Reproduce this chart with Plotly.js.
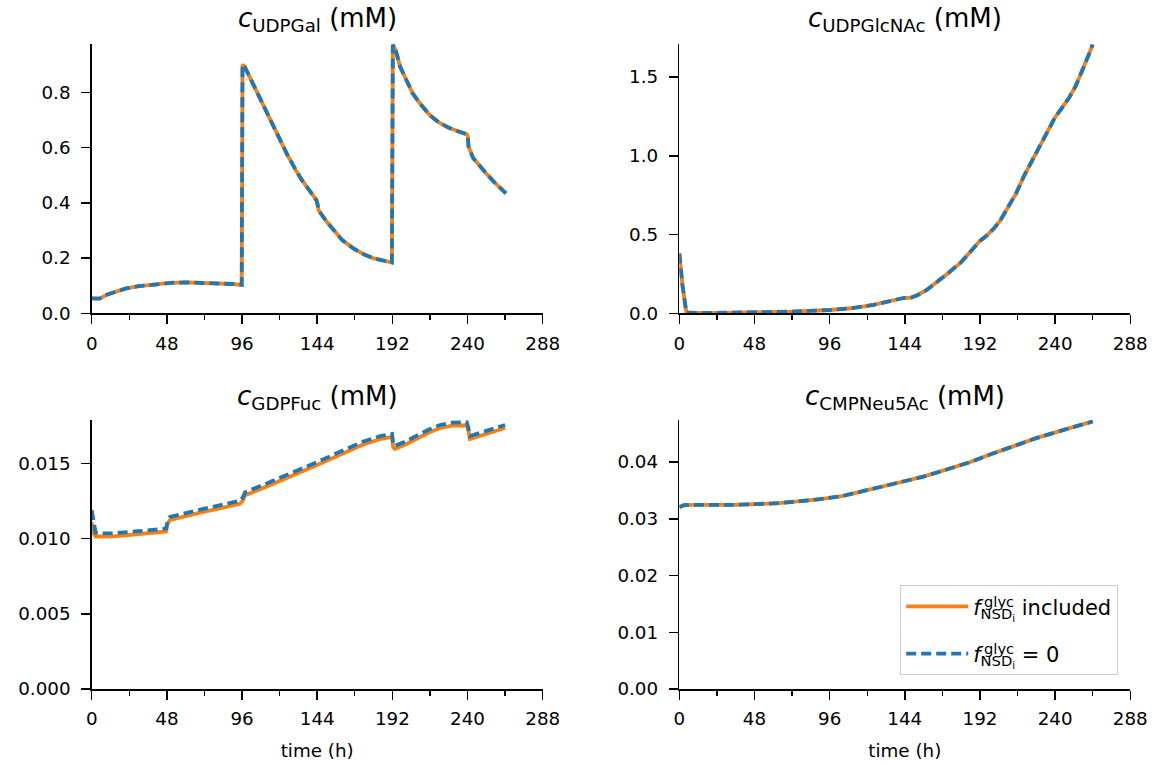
<!DOCTYPE html>
<html>
<head>
<meta charset="utf-8">
<script src="https://cdn.plot.ly/plotly-3.0.1.min.js"></script>
<style>html,body{margin:0;padding:0;background:#fff;}#chart{width:1159px;height:765px;}</style>
</head>
<body>
<div id="chart"></div>
<script>
// ---------- data ----------
const xTicks = [0, 48, 96, 144, 192, 240, 288];
const xMinorTicks = [24, 72, 120, 168, 216, 264];

// UDPGal (identical for both cases)
const tUDPGal = [0, 3, 5, 10, 16, 22, 30, 40, 50, 60, 70, 80, 90, 95.8, 96.3, 97.5, 103, 110, 115, 120, 125, 130, 134, 138, 141, 143.5, 144.2, 145, 150, 155, 160, 167, 174, 180, 186, 191.7, 192.3, 194, 197, 201, 205, 210, 216, 222, 228, 234, 239.6, 240.2, 240.6, 243.7, 248, 252, 258, 264.6];
const udpgalIncluded = [0.054, 0.052, 0.053, 0.068, 0.080, 0.090, 0.098, 0.105, 0.110, 0.112, 0.111, 0.109, 0.106, 0.103, 0.900, 0.895, 0.830, 0.745, 0.685, 0.628, 0.573, 0.522, 0.484, 0.453, 0.430, 0.410, 0.395, 0.372, 0.332, 0.297, 0.265, 0.235, 0.213, 0.199, 0.190, 0.184, 0.972, 0.955, 0.892, 0.840, 0.796, 0.757, 0.717, 0.690, 0.672, 0.659, 0.648, 0.640, 0.605, 0.561, 0.530, 0.506, 0.469, 0.434];
const udpgalZero = udpgalIncluded.slice();

// UDPGlcNAc (identical for both cases)
const tUDPGlcNAc = [0, 2, 4.5, 10, 24, 48, 72, 96, 110, 124, 135, 143, 148, 152, 158, 166, 172, 180, 186, 192, 196, 201, 205, 210, 215, 220, 225, 230, 235, 240, 244, 249, 253, 257, 261, 264];
const udpglcnacIncluded = [0.38, 0.18, 0.005, 0.002, 0.003, 0.006, 0.011, 0.021, 0.032, 0.053, 0.075, 0.097, 0.100, 0.115, 0.148, 0.207, 0.258, 0.325, 0.390, 0.460, 0.490, 0.540, 0.590, 0.670, 0.760, 0.870, 0.965, 1.055, 1.150, 1.245, 1.300, 1.370, 1.440, 1.530, 1.630, 1.707];
const udpglcnacZero = udpglcnacIncluded.slice();

// GDPFuc (the two cases differ slightly)
const tGDPFuc = [0, 1, 2.5, 6, 14, 30, 47.5, 48.5, 50, 70, 94.7, 96.5, 98, 110, 125, 141.5, 144, 160, 173, 185, 191.8, 192.5, 193.5, 200, 205.4, 215, 222.4, 230, 239.5, 240.5, 241.5, 245, 255, 264];
const gdpfucIncluded = [0.0111, 0.0104, 0.01015, 0.01015, 0.01016, 0.01030, 0.01048, 0.01100, 0.01125, 0.01175, 0.01232, 0.01255, 0.01290, 0.01340, 0.01405, 0.01480, 0.01490, 0.01565, 0.01625, 0.01665, 0.01677, 0.01610, 0.01597, 0.01625, 0.01655, 0.01705, 0.01737, 0.01752, 0.01755, 0.01720, 0.01663, 0.01675, 0.01705, 0.01737];
const gdpfucZero = [0.0119, 0.0113, 0.01040, 0.01035, 0.01036, 0.01050, 0.01068, 0.01120, 0.01145, 0.01195, 0.01252, 0.01275, 0.01310, 0.01360, 0.01425, 0.01501, 0.01510, 0.01585, 0.01645, 0.01685, 0.01697, 0.01630, 0.01617, 0.01645, 0.01675, 0.01725, 0.01757, 0.01772, 0.01775, 0.01740, 0.01683, 0.01695, 0.01725, 0.01757];

// CMPNeu5Ac (identical for both cases)
const tCMPNeu5Ac = [0, 3, 10, 36, 64, 80, 90, 104, 117, 130, 143, 157, 171, 185, 198, 213, 228, 246, 264];
const cmpneu5acIncluded = [0.03205, 0.03240, 0.03245, 0.03245, 0.03275, 0.03310, 0.03345, 0.03400, 0.03480, 0.03560, 0.03656, 0.03750, 0.03862, 0.03990, 0.04127, 0.04270, 0.04421, 0.04570, 0.04714];
const cmpneu5acZero = cmpneu5acIncluded.slice();

const seriesNames = ['<i>f</i><sub>NSD<sub>i</sub></sub> included', '<i>f</i><sub>NSD<sub>i</sub></sub> = 0'];
const seriesSup = 'glyc';
const panelTitles = ['<i>c</i><sub>UDPGal</sub> (mM)', '<i>c</i><sub>UDPGlcNAc</sub> (mM)', '<i>c</i><sub>GDPFuc</sub> (mM)', '<i>c</i><sub>CMPNeu5Ac</sub> (mM)'];
const xTitle = 'time (h)';

// ---------- styling ----------
const ORANGE = '#ff7f0e', BLUE = '#1f77b4';
const W = 1159, H = 765;
const FONT = 'DejaVu Sans';
const TICK_SIZE = 18.3, TITLE_SIZE = 26, LEGEND_SIZE = 21;
function px2x(p){ return p / W; }
function px2y(p){ return 1 - p / H; }

const colL = [px2x(91.7), px2x(542.7)];
const colR = [px2x(679.3), px2x(1130.3)];
const rowT = [px2y(313.3), px2y(44)];
const rowB = [px2y(689), px2y(420)];

const panels = [
  {t: tUDPGal, a: udpgalIncluded, b: udpgalZero, xa: 'x', ya: 'y'},
  {t: tUDPGlcNAc, a: udpglcnacIncluded, b: udpglcnacZero, xa: 'x2', ya: 'y2'},
  {t: tGDPFuc, a: gdpfucIncluded, b: gdpfucZero, xa: 'x3', ya: 'y3'},
  {t: tCMPNeu5Ac, a: cmpneu5acIncluded, b: cmpneu5acZero, xa: 'x4', ya: 'y4'}
];

const traces = [];
panels.forEach((p, i) => {
  const legend = (i === 3);
  traces.push({x: p.t, y: p.a, xaxis: p.xa, yaxis: p.ya, type: 'scatter', mode: 'lines', legendgroup: 'inc',
    name: seriesNames[0], showlegend: legend, line: {color: ORANGE, width: 3.8}});
  traces.push({x: p.t, y: p.b, xaxis: p.xa, yaxis: p.ya, type: 'scatter', mode: 'lines', legendgroup: 'zero',
    name: seriesNames[1], showlegend: legend, line: {color: BLUE, width: 3.8, dash: '10px,5px'}});
});

function xAxis(domain, anchor, withTitle){
  const ax = {domain: domain, anchor: anchor, range: [0, 288], tickvals: xTicks, ticktext: xTicks.map(String),
    showline: true, linecolor: '#000', linewidth: 1.5, ticks: 'outside', ticklen: 9, tickwidth: 1.5, tickcolor: '#000',
    showgrid: false, zeroline: false, tickfont: {family: FONT, size: TICK_SIZE, color: '#000'}, ticklabelstandoff: 4,
    minor: {tickvals: xMinorTicks, ticks: 'outside', ticklen: 5, tickwidth: 1.3, tickcolor: '#000', showgrid: false},
    fixedrange: true};
  if (withTitle) ax.title = {text: xTitle, font: {family: FONT, size: TICK_SIZE, color: '#000'}, standoff: 15};
  return ax;
}
function yAxis(domain, anchor, range, dtick, fmt){
  return {domain: domain, anchor: anchor, range: range, tick0: 0, dtick: dtick, tickformat: fmt,
    showline: true, linecolor: '#000', linewidth: 1.5, ticks: 'outside', ticklen: 9, tickwidth: 1.5, tickcolor: '#000',
    showgrid: false, zeroline: false, tickfont: {family: FONT, size: TICK_SIZE, color: '#000'}, ticklabelstandoff: 7, fixedrange: true};
}

const titleAnn = (text, xd, ytop, shift) => ({text: text, xref: 'paper', yref: 'paper', x: (xd[0] + xd[1]) / 2, y: ytop,
  xanchor: 'center', yanchor: 'bottom', yshift: shift, showarrow: false, font: {family: FONT, size: TITLE_SIZE, color: '#000'}});

const layout = {
  width: W, height: H, margin: {l: 0, r: 0, t: 0, b: 0},
  paper_bgcolor: '#fff', plot_bgcolor: '#fff',
  font: {family: FONT, color: '#000'},
  xaxis: xAxis(colL, 'y', false),
  yaxis: yAxis(rowT, 'x', [0, 0.975], 0.2, '.1f'),
  xaxis2: xAxis(colR, 'y2', false),
  yaxis2: yAxis(rowT, 'x2', [0, 1.71], 0.5, '.1f'),
  xaxis3: xAxis(colL, 'y3', true),
  yaxis3: yAxis(rowB, 'x3', [0, 0.0179], 0.005, '.3f'),
  xaxis4: xAxis(colR, 'y4', true),
  yaxis4: yAxis(rowB, 'x4', [0, 0.0474], 0.01, '.2f'),
  annotations: [
    titleAnn(panelTitles[0], colL, rowT[1], 6),
    titleAnn(panelTitles[1], colR, rowT[1], 6),
    titleAnn(panelTitles[2], colL, rowB[1], 4),
    titleAnn(panelTitles[3], colR, rowB[1], 4)
  ],
  legend: {x: px2x(900), y: px2y(585), xanchor: 'left', yanchor: 'top', bgcolor: '#fff', bordercolor: '#cccccc', borderwidth: 1.2,
    font: {family: FONT, size: LEGEND_SIZE, color: '#000'}, itemwidth: 62, tracegroupgap: 17, traceorder: 'grouped'},
  showlegend: true
};

Plotly.newPlot('chart', traces, layout, {displayModeBar: false, staticPlot: true}).then(gd => {
  // place the "glyc" superscript above the subscript of each legend entry
  const root = gd.getBoundingClientRect();
  const anns = layout.annotations.slice();
  gd.querySelectorAll('.legend .legendtext').forEach(t => {
    const spans = Array.from(t.querySelectorAll('tspan'));
    const fEl = spans.find(s => s.textContent === 'f');
    const subEl = spans.find(s => s.textContent.indexOf('NSD') === 0);
    if (!fEl || !subEl) return;
    const fr = fEl.getBoundingClientRect();
    const sr = subEl.getBoundingClientRect();
    const baseline = fr.bottom - root.top - 0.236 * LEGEND_SIZE;
    const left = sr.left - root.left;
    anns.push({text: seriesSup, xref: 'paper', yref: 'paper', x: (left + 1) / W, y: 1 - (baseline - 3) / H,
      xanchor: 'left', yanchor: 'bottom', showarrow: false, font: {family: FONT, size: LEGEND_SIZE * 0.7, color: '#000'}});
  });
  return Plotly.relayout(gd, {annotations: anns});
});
</script>
</body>
</html>
